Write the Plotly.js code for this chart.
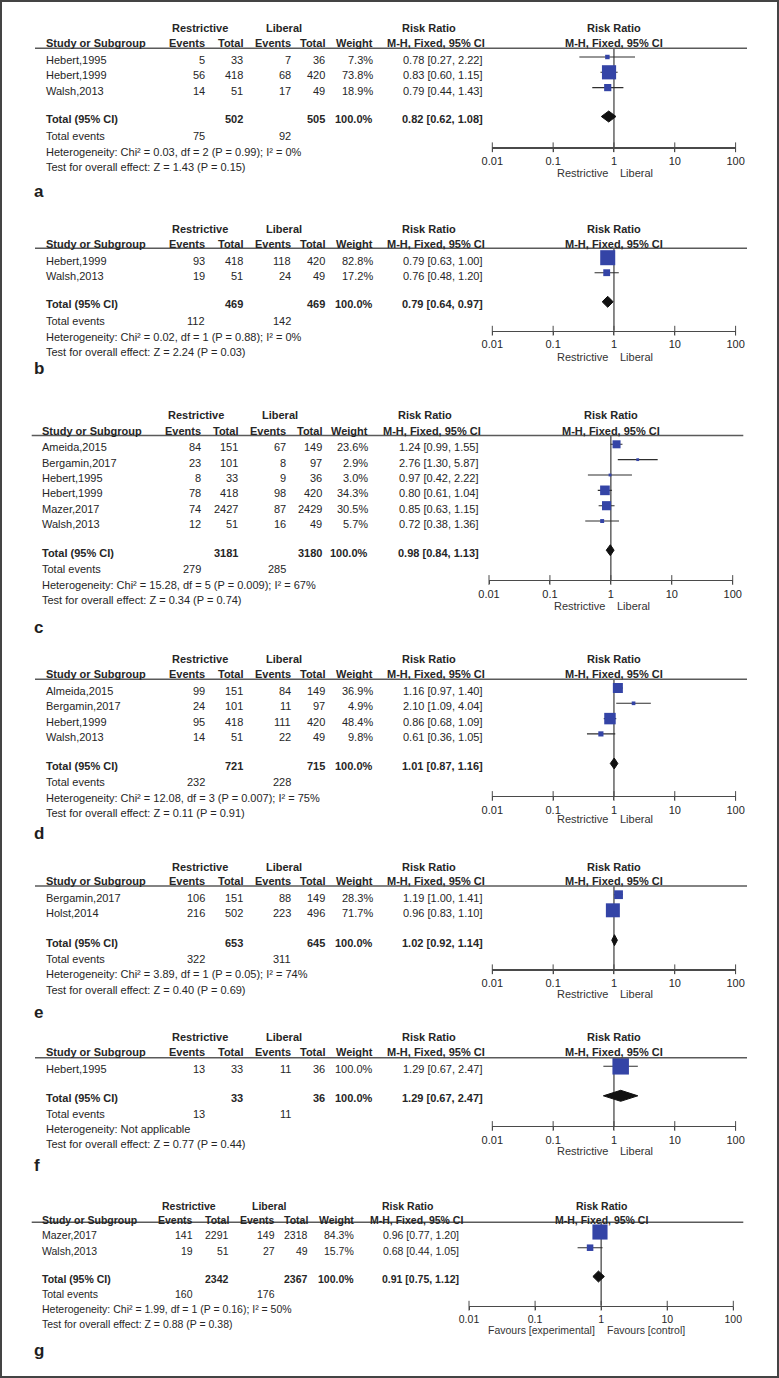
<!DOCTYPE html>
<html>
<head>
<meta charset="utf-8">
<script src="https://cdn.plot.ly/plotly-3.0.1.min.js"></script>
<style>html,body{margin:0;padding:0;background:#fff;}#chart{width:779px;height:1378px;}</style>
</head>
<body>
<div id="chart"></div>
<script>
// ---------------- DATA ----------------
const panelLetters = ['a','b','c','d','e','f','g'];
const tickValues = [0.01, 0.1, 1, 10, 100];
const tickLabels = ['0.01', '0.1', '1', '10', '100'];
const favourLabelsStd = ['Restrictive', 'Liberal'];
const favourLabelsG = ['Favours [experimental]', 'Favours [control]'];

// Panel a
const studiesA = ['Hebert,1995', 'Hebert,1999', 'Walsh,2013'];
const restEventsA = [5, 56, 14];
const restTotalA = [33, 418, 51];
const libEventsA = [7, 68, 17];
const libTotalA = [36, 420, 49];
const weightA = [7.3, 73.8, 18.9];
const rrA = [0.78, 0.83, 0.79];
const lowA = [0.27, 0.60, 0.44];
const highA = [2.22, 1.15, 1.43];
const totalNA = [502, 505];
const totalEventsA = [75, 92];
const pooledA = [0.82, 0.62, 1.08];
const hetA = 'Heterogeneity: Chi² = 0.03, df = 2 (P = 0.99); I² = 0%';
const testA = 'Test for overall effect: Z = 1.43 (P = 0.15)';

// Panel b
const studiesB = ['Hebert,1999', 'Walsh,2013'];
const restEventsB = [93, 19];
const restTotalB = [418, 51];
const libEventsB = [118, 24];
const libTotalB = [420, 49];
const weightB = [82.8, 17.2];
const rrB = [0.79, 0.76];
const lowB = [0.63, 0.48];
const highB = [1.00, 1.20];
const totalNB = [469, 469];
const totalEventsB = [112, 142];
const pooledB = [0.79, 0.64, 0.97];
const hetB = 'Heterogeneity: Chi² = 0.02, df = 1 (P = 0.88); I² = 0%';
const testB = 'Test for overall effect: Z = 2.24 (P = 0.03)';

// Panel c
const studiesC = ['Ameida,2015', 'Bergamin,2017', 'Hebert,1995', 'Hebert,1999', 'Mazer,2017', 'Walsh,2013'];
const restEventsC = [84, 23, 8, 78, 74, 12];
const restTotalC = [151, 101, 33, 418, 2427, 51];
const libEventsC = [67, 8, 9, 98, 87, 16];
const libTotalC = [149, 97, 36, 420, 2429, 49];
const weightC = [23.6, 2.9, 3.0, 34.3, 30.5, 5.7];
const rrC = [1.24, 2.76, 0.97, 0.80, 0.85, 0.72];
const lowC = [0.99, 1.30, 0.42, 0.61, 0.63, 0.38];
const highC = [1.55, 5.87, 2.22, 1.04, 1.15, 1.36];
const totalNC = [3181, 3180];
const totalEventsC = [279, 285];
const pooledC = [0.98, 0.84, 1.13];
const hetC = 'Heterogeneity: Chi² = 15.28, df = 5 (P = 0.009); I² = 67%';
const testC = 'Test for overall effect: Z = 0.34 (P = 0.74)';

// Panel d
const studiesD = ['Almeida,2015', 'Bergamin,2017', 'Hebert,1999', 'Walsh,2013'];
const restEventsD = [99, 24, 95, 14];
const restTotalD = [151, 101, 418, 51];
const libEventsD = [84, 11, 111, 22];
const libTotalD = [149, 97, 420, 49];
const weightD = [36.9, 4.9, 48.4, 9.8];
const rrD = [1.16, 2.10, 0.86, 0.61];
const lowD = [0.97, 1.09, 0.68, 0.36];
const highD = [1.40, 4.04, 1.09, 1.05];
const totalND = [721, 715];
const totalEventsD = [232, 228];
const pooledD = [1.01, 0.87, 1.16];
const hetD = 'Heterogeneity: Chi² = 12.08, df = 3 (P = 0.007); I² = 75%';
const testD = 'Test for overall effect: Z = 0.11 (P = 0.91)';

// Panel e
const studiesE = ['Bergamin,2017', 'Holst,2014'];
const restEventsE = [106, 216];
const restTotalE = [151, 502];
const libEventsE = [88, 223];
const libTotalE = [149, 496];
const weightE = [28.3, 71.7];
const rrE = [1.19, 0.96];
const lowE = [1.00, 0.83];
const highE = [1.41, 1.10];
const totalNE = [653, 645];
const totalEventsE = [322, 311];
const pooledE = [1.02, 0.92, 1.14];
const hetE = 'Heterogeneity: Chi² = 3.89, df = 1 (P = 0.05); I² = 74%';
const testE = 'Test for overall effect: Z = 0.40 (P = 0.69)';

// Panel f
const studiesF = ['Hebert,1995'];
const restEventsF = [13];
const restTotalF = [33];
const libEventsF = [11];
const libTotalF = [36];
const weightF = [100.0];
const rrF = [1.29];
const lowF = [0.67];
const highF = [2.47];
const totalNF = [33, 36];
const totalEventsF = [13, 11];
const pooledF = [1.29, 0.67, 2.47];
const hetF = 'Heterogeneity: Not applicable';
const testF = 'Test for overall effect: Z = 0.77 (P = 0.44)';

// Panel g
const studiesG = ['Mazer,2017', 'Walsh,2013'];
const restEventsG = [141, 19];
const restTotalG = [2291, 51];
const libEventsG = [149, 27];
const libTotalG = [2318, 49];
const weightG = [84.3, 15.7];
const rrG = [0.96, 0.68];
const lowG = [0.77, 0.44];
const highG = [1.20, 1.05];
const totalNG = [2342, 2367];
const totalEventsG = [160, 176];
const pooledG = [0.91, 0.75, 1.12];
const hetG = 'Heterogeneity: Chi² = 1.99, df = 1 (P = 0.16); I² = 50%';
const testG = 'Test for overall effect: Z = 0.88 (P = 0.38)';

// ---------------- LAYOUT GEOMETRY (pixels) ----------------
const W = 779, H = 1378;
const colStd = {study:45.7, rHdr:200, rE:205, rN:242.6, lHdr:283.5, lE:291, lN:324.8, w:372.5, rrHdr:429, mh:436, rr:483};
const colC   = {study:41.7, rHdr:196, rE:200.5, rN:238, lHdr:279.5, lE:286, lN:321.7, w:368.3, rrHdr:425.3, mh:432, rr:479.3};
const colG   = {study:41.7, rHdr:188.5, rE:193.3, rN:229.3, lHdr:269.5, lE:275, lN:308.3, w:354, rrHdr:407.7, mh:416, rr:459.3};
const plotStd = {x0:492.3, x100:735.6, lineL:35, lineR:747};
const plotC   = {x0:489, x100:732.7, lineL:31.7, lineR:743.3};
const plotG   = {x0:469, x100:733.3, lineL:31.7, lineR:743.3};

const geo = [
  {col:colStd, plot:plotStd, fs:11, yR:28.3, yH:43.3, yL:48.3, row0:60, dy:15.3, yT:119, yTE:136, yHet:151.7, yTest:166.7, yAx:147.3, yFav:173.3, yLet:191.7},
  {col:colStd, plot:plotStd, fs:11, yR:229, yH:243.7, yL:248.3, row0:260.7, dy:15, yT:304.3, yTE:321, yHet:336.7, yTest:351.7, yAx:330.7, yFav:357.3, yLet:369},
  {col:colC, plot:plotC, fs:11, yR:415, yH:431, yL:435.5, row0:447.3, dy:15.35, yT:552.7, yTE:569, yHet:584.5, yTest:600, yAx:580, yFav:606, yLet:627},
  {col:colStd, plot:plotStd, fs:11, yR:659.3, yH:674.3, yL:679.3, row0:691, dy:15.3, yT:766, yTE:782.3, yHet:797.7, yTest:813.3, yAx:796, yFav:819.3, yLet:833.3},
  {col:colStd, plot:plotStd, fs:11, yR:866.7, yH:881.3, yL:886, row0:897.7, dy:15.6, yT:942.7, yTE:959.3, yHet:974.3, yTest:990, yAx:969.3, yFav:994, yLet:1012},
  {col:colStd, plot:plotStd, fs:11, yR:1036.7, yH:1052.3, yL:1057.7, row0:1069.3, dy:15.3, yT:1098.3, yTE:1114.3, yHet:1129, yTest:1144, yAx:1126, yFav:1151, yLet:1165},
  {col:colG, plot:plotG, fs:10.5, yR:1205.7, yH:1220, yL:1222.3, row0:1235, dy:15.7, yT:1279, yTE:1294.3, yHet:1309.3, yTest:1324.3, yAx:1305.7, yFav:1330, yLet:1350}
];

const panels = [
  {studies:studiesA, rE:restEventsA, rN:restTotalA, lE:libEventsA, lN:libTotalA, w:weightA, rr:rrA, lo:lowA, hi:highA, tN:totalNA, tE:totalEventsA, pool:pooledA, het:hetA, test:testA, fav:favourLabelsStd},
  {studies:studiesB, rE:restEventsB, rN:restTotalB, lE:libEventsB, lN:libTotalB, w:weightB, rr:rrB, lo:lowB, hi:highB, tN:totalNB, tE:totalEventsB, pool:pooledB, het:hetB, test:testB, fav:favourLabelsStd},
  {studies:studiesC, rE:restEventsC, rN:restTotalC, lE:libEventsC, lN:libTotalC, w:weightC, rr:rrC, lo:lowC, hi:highC, tN:totalNC, tE:totalEventsC, pool:pooledC, het:hetC, test:testC, fav:favourLabelsStd},
  {studies:studiesD, rE:restEventsD, rN:restTotalD, lE:libEventsD, lN:libTotalD, w:weightD, rr:rrD, lo:lowD, hi:highD, tN:totalND, tE:totalEventsD, pool:pooledD, het:hetD, test:testD, fav:favourLabelsStd},
  {studies:studiesE, rE:restEventsE, rN:restTotalE, lE:libEventsE, lN:libTotalE, w:weightE, rr:rrE, lo:lowE, hi:highE, tN:totalNE, tE:totalEventsE, pool:pooledE, het:hetE, test:testE, fav:favourLabelsStd},
  {studies:studiesF, rE:restEventsF, rN:restTotalF, lE:libEventsF, lN:libTotalF, w:weightF, rr:rrF, lo:lowF, hi:highF, tN:totalNF, tE:totalEventsF, pool:pooledF, het:hetF, test:testF, fav:favourLabelsStd},
  {studies:studiesG, rE:restEventsG, rN:restTotalG, lE:libEventsG, lN:libTotalG, w:weightG, rr:rrG, lo:lowG, hi:highG, tN:totalNG, tE:totalEventsG, pool:pooledG, het:hetG, test:testG, fav:favourLabelsG}
];

// ---------------- BUILD ----------------
const FONT = '"Liberation Sans", Arial, Helvetica, sans-serif';
const TXT = '#262626';
const BLUE = '#3444a6';
const LINE = '#4a4a4a';
const px = x => x / W;
const py = y => 1 - y / H;

const traces = [], annotations = [], shapes = [];
const layout = {
  width: W, height: H,
  margin: {l:0, r:0, t:0, b:0, pad:0},
  paper_bgcolor: '#ffffff', plot_bgcolor: 'rgba(0,0,0,0)',
  showlegend: false,
  font: {family: FONT, color: TXT, size: 11},
  annotations: annotations, shapes: shapes
};

function ann(text, x, y, anchor, fs, bold, extra) {
  const a = Object.assign({
    text: bold ? '<b>' + text + '</b>' : text,
    x: px(x), y: py(y), xref: 'paper', yref: 'paper',
    xanchor: anchor, yanchor: 'middle', showarrow: false,
    xshift: anchor === 'right' ? 2 : (anchor === 'left' ? -2 : 0),
    font: {family: FONT, size: fs, color: TXT}
  }, extra || {});
  annotations.push(a);
}
const fmt2 = v => v.toFixed(2);
const ciText = (r, l, h) => fmt2(r) + ' [' + fmt2(l) + ', ' + fmt2(h) + ']';

panels.forEach((p, i) => {
  const g = geo[i], c = g.col, fs = g.fs;
  const k = i + 1;
  const xName = k === 1 ? 'x' : 'x' + k;
  const yName = k === 1 ? 'y' : 'y' + k;
  const xKey = k === 1 ? 'xaxis' : 'xaxis' + k;
  const yKey = k === 1 ? 'yaxis' : 'yaxis' + k;
  const markBase = g.row0 - 3;              // pixel of row 0 marker
  const toRow = ypx => (ypx - markBase) / g.dy;
  const rows = p.rr.map((_, j) => j);

  layout[yKey] = {
    domain: [py(g.yAx), py(g.yL)],
    range: [toRow(g.yAx), toRow(g.yL)],
    visible: false, fixedrange: true, showgrid: false, zeroline: false
  };
  layout[xKey] = {
    domain: [px(g.plot.x0), px(g.plot.x100)],
    type: 'log', range: [-2, 2], anchor: yName,
    tickvals: tickValues, ticktext: tickLabels,
    ticks: 'outside', ticklen: 3, tickwidth: 1, tickcolor: LINE,
    showline: true, linecolor: LINE, linewidth: 1.3,
    showgrid: false, zeroline: false, fixedrange: true,
    tickfont: {family: FONT, size: fs, color: TXT}
  };

  // tick crossing marks
  traces.push({
    type: 'scatter', mode: 'markers', xaxis: xName, yaxis: yName,
    x: tickValues, y: tickValues.map(() => toRow(g.yAx)),
    marker: {symbol: 'line-ns-open', size: 7, color: LINE, opacity: 1, line: {width: 1, color: LINE}},
    cliponaxis: false, hoverinfo: 'skip'
  });
  // line of no effect (RR = 1)
  traces.push({
    type: 'scatter', mode: 'lines', xaxis: xName, yaxis: yName,
    x: [tickValues[2], tickValues[2]], y: [toRow(g.yL), toRow(g.yAx)],
    line: {color: LINE, width: 1.3}, cliponaxis: false, hoverinfo: 'skip'
  });
  // confidence intervals (drawn first, under the squares)
  traces.push({
    type: 'scatter', mode: 'markers', xaxis: xName, yaxis: yName,
    x: p.rr, y: rows,
    marker: {size: 1, color: 'rgba(0,0,0,0)', opacity: 0},
    error_x: {type: 'data', symmetric: false,
      array: p.rr.map((r, j) => p.hi[j] - r),
      arrayminus: p.rr.map((r, j) => r - p.lo[j]),
      width: 0, thickness: 1.1, color: '#2e2e2e'},
    cliponaxis: false, hoverinfo: 'skip'
  });
  // study estimates (square size from weight)
  traces.push({
    type: 'scatter', mode: 'markers', xaxis: xName, yaxis: yName,
    x: p.rr, y: rows,
    marker: {symbol: 'square', color: BLUE, opacity: 1,
      size: p.w.map(w => Math.max(2.5, 1.65 * Math.sqrt(w))), line: {width: 0}},
    cliponaxis: false, hoverinfo: 'skip'
  });
  // pooled diamond
  const t = toRow(g.yT - 2.5), h = 5.5 / g.dy;
  traces.push({
    type: 'scatter', mode: 'lines', xaxis: xName, yaxis: yName,
    x: [p.pool[1], p.pool[0], p.pool[2], p.pool[0], p.pool[1]],
    y: [t, t - h, t, t + h, t],
    fill: 'toself', fillcolor: '#111111', line: {color: '#111111', width: 1},
    cliponaxis: false, hoverinfo: 'skip'
  });

  // header line across table and plot
  shapes.push({type: 'line', xref: 'paper', yref: 'paper',
    x0: px(g.plot.lineL), x1: px(g.plot.lineR), y0: py(g.yL), y1: py(g.yL),
    line: {color: '#5a5a5a', width: 1.6}});

  // table headers
  ann('Restrictive', c.rHdr, g.yR, 'center', fs, true);
  ann('Liberal', c.lHdr, g.yR, 'center', fs, true);
  ann('Risk Ratio', c.rrHdr, g.yR, 'center', fs, true);
  ann('Study or Subgroup', c.study, g.yH, 'left', fs, true);
  ann('Events', c.rE, g.yH, 'right', fs, true);
  ann('Total', c.rN, g.yH, 'right', fs, true);
  ann('Events', c.lE, g.yH, 'right', fs, true);
  ann('Total', c.lN, g.yH, 'right', fs, true);
  ann('Weight', c.w, g.yH, 'right', fs, true);
  ann('M-H, Fixed, 95% CI', c.mh, g.yH, 'center', fs, true);
  // plot headers centred on RR = 1
  annotations.push({text: '<b>Risk Ratio</b>', xref: xName, yref: 'paper', x: Math.log10(tickValues[2]), y: py(g.yR),
    xanchor: 'center', yanchor: 'middle', showarrow: false, font: {family: FONT, size: fs, color: TXT}});
  annotations.push({text: '<b>M-H, Fixed, 95% CI</b>', xref: xName, yref: 'paper', x: Math.log10(tickValues[2]), y: py(g.yH),
    xanchor: 'center', yanchor: 'middle', showarrow: false, font: {family: FONT, size: fs, color: TXT}});

  // study rows
  p.studies.forEach((s, j) => {
    const y = g.row0 + j * g.dy;
    ann(s, c.study, y, 'left', fs);
    ann(String(p.rE[j]), c.rE, y, 'right', fs);
    ann(String(p.rN[j]), c.rN, y, 'right', fs);
    ann(String(p.lE[j]), c.lE, y, 'right', fs);
    ann(String(p.lN[j]), c.lN, y, 'right', fs);
    ann(p.w[j].toFixed(1) + '%', c.w, y, 'right', fs);
    ann(ciText(p.rr[j], p.lo[j], p.hi[j]), c.rr, y, 'right', fs);
  });
  // total row
  ann('Total (95% CI)', c.study, g.yT, 'left', fs, true);
  ann(String(p.tN[0]), c.rN, g.yT, 'right', fs, true);
  ann(String(p.tN[1]), c.lN, g.yT, 'right', fs, true);
  ann('100.0%', c.w, g.yT, 'right', fs, true);
  ann(ciText(p.pool[0], p.pool[1], p.pool[2]), c.rr, g.yT, 'right', fs, true);
  // total events, heterogeneity, overall effect
  ann('Total events', c.study, g.yTE, 'left', fs);
  ann(String(p.tE[0]), c.rE, g.yTE, 'right', fs);
  ann(String(p.tE[1]), c.lE, g.yTE, 'right', fs);
  ann(p.het, c.study, g.yHet, 'left', fs);
  ann(p.test, c.study, g.yTest, 'left', fs);

  // favours labels under the axis
  annotations.push({text: p.fav[0], xref: xName, yref: 'paper', x: Math.log10(tickValues[2]), y: py(g.yFav),
    xanchor: 'right', yanchor: 'middle', xshift: -4, showarrow: false, font: {family: FONT, size: fs, color: '#333'}});
  annotations.push({text: p.fav[1], xref: xName, yref: 'paper', x: Math.log10(tickValues[2]), y: py(g.yFav),
    xanchor: 'left', yanchor: 'middle', xshift: 4, showarrow: false, font: {family: FONT, size: fs, color: '#333'}});

  // panel letter
  ann(panelLetters[i], 34, g.yLet, 'left', 17, true, {font: {family: FONT, size: 17, color: '#1e1e1e'}});
});

// outer frame
shapes.push({type: 'rect', xref: 'paper', yref: 'paper', x0: 0, x1: 1, y0: 0, y1: 1,
  line: {color: '#444444', width: 4}, fillcolor: 'rgba(0,0,0,0)'});

Plotly.newPlot('chart', traces, layout, {staticPlot: true, displayModeBar: false});
</script>
</body>
</html>
